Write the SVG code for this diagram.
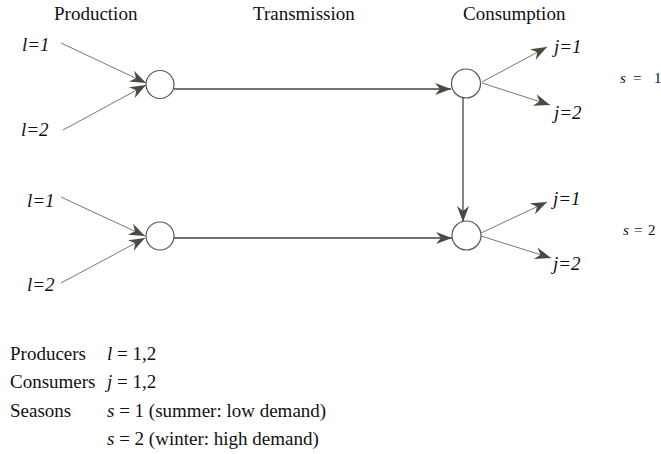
<svg xmlns="http://www.w3.org/2000/svg" width="661" height="454" viewBox="0 0 661 454">
<style>
text{font-family:"Liberation Serif",Tinos,"Times New Roman",Times,"Nimbus Roman","DejaVu Serif",serif;fill:#111}
.h{font-size:19px}
.lab{font-size:19px;font-style:italic}
.b{font-size:19px}
.s{font-size:15px}
.it{font-style:italic}
.node{fill:#fff;stroke:#555;stroke-width:1.2}
.thin{stroke:#777;stroke-width:1;fill:none}
.thick{stroke:#444;stroke-width:1.3;fill:none}
</style>
<defs>
<marker id="ah" viewBox="-17 -7 18 14" markerWidth="18" markerHeight="14" refX="0" refY="0" orient="auto" markerUnits="userSpaceOnUse">
<path d="M0,0 L-16,-6 L-11,0 L-16,6 Z" fill="#4a4a40"/>
</marker>
</defs>
<g id="headers">
<text class="h" x="54" y="20">Production</text>
<text class="h" x="253" y="20">Transmission</text>
<text class="h" x="463" y="20">Consumption</text>
</g>
<g id="connectors">
<line class="thin" x1="61" y1="43" x2="146" y2="83" marker-end="url(#ah)"/>
<line class="thin" x1="63" y1="130" x2="146" y2="85" marker-end="url(#ah)"/>
<line class="thin" x1="61" y1="197" x2="145" y2="236" marker-end="url(#ah)"/>
<line class="thin" x1="61" y1="283" x2="145" y2="238" marker-end="url(#ah)"/>
<line class="thick" x1="174" y1="89" x2="451" y2="89" marker-end="url(#ah)"/>
<line class="thick" x1="174" y1="238" x2="452" y2="238" marker-end="url(#ah)"/>
<line class="thick" x1="463" y1="98" x2="463" y2="222" marker-end="url(#ah)"/>
<line class="thin" x1="482" y1="82" x2="547" y2="47" marker-end="url(#ah)"/>
<line class="thin" x1="482" y1="83" x2="550" y2="105" marker-end="url(#ah)"/>
<line class="thin" x1="481" y1="233" x2="547" y2="202" marker-end="url(#ah)"/>
<line class="thin" x1="481" y1="236" x2="551" y2="258" marker-end="url(#ah)"/>
</g>
<g id="prod1"><circle class="node" cx="160" cy="84.5" r="14"/></g>
<g id="cons1"><circle class="node" cx="466" cy="83.5" r="14.5"/></g>
<g id="prod2"><circle class="node" cx="160" cy="236" r="14"/></g>
<g id="cons2"><circle class="node" cx="466.5" cy="235.5" r="14.5"/></g>
<g id="labels">
<text class="lab" x="22" y="51">l=1</text>
<text class="lab" x="21" y="136">l=2</text>
<text class="lab" x="27" y="207">l=1</text>
<text class="lab" x="27" y="291">l=2</text>
<text class="lab" x="554" y="53">j=1</text>
<text class="lab" x="554" y="119">j=2</text>
<text class="lab" x="553" y="205">j=1</text>
<text class="lab" x="553" y="270">j=2</text>
</g>
<g id="seasons">
<text class="s" y="83"><tspan class="it" x="620">s</tspan><tspan x="633">=</tspan><tspan x="654">1</tspan></text>
<text class="s" y="235"><tspan class="it" x="623">s</tspan><tspan x="634">=</tspan><tspan x="648">2</tspan></text>
</g>
<g id="legend">
<text class="b" x="10" y="360">Producers</text>
<text class="b" x="107" y="360"><tspan class="it">l</tspan> = 1,2</text>
<text class="b" x="10" y="388">Consumers</text>
<text class="b" x="107" y="388"><tspan class="it">j</tspan> = 1,2</text>
<text class="b" x="10" y="417">Seasons</text>
<text class="b" x="107" y="417"><tspan class="it">s</tspan> = 1 (summer: low demand)</text>
<text class="b" x="107" y="445"><tspan class="it">s</tspan> = 2 (winter: high demand)</text>
</g>
</svg>
